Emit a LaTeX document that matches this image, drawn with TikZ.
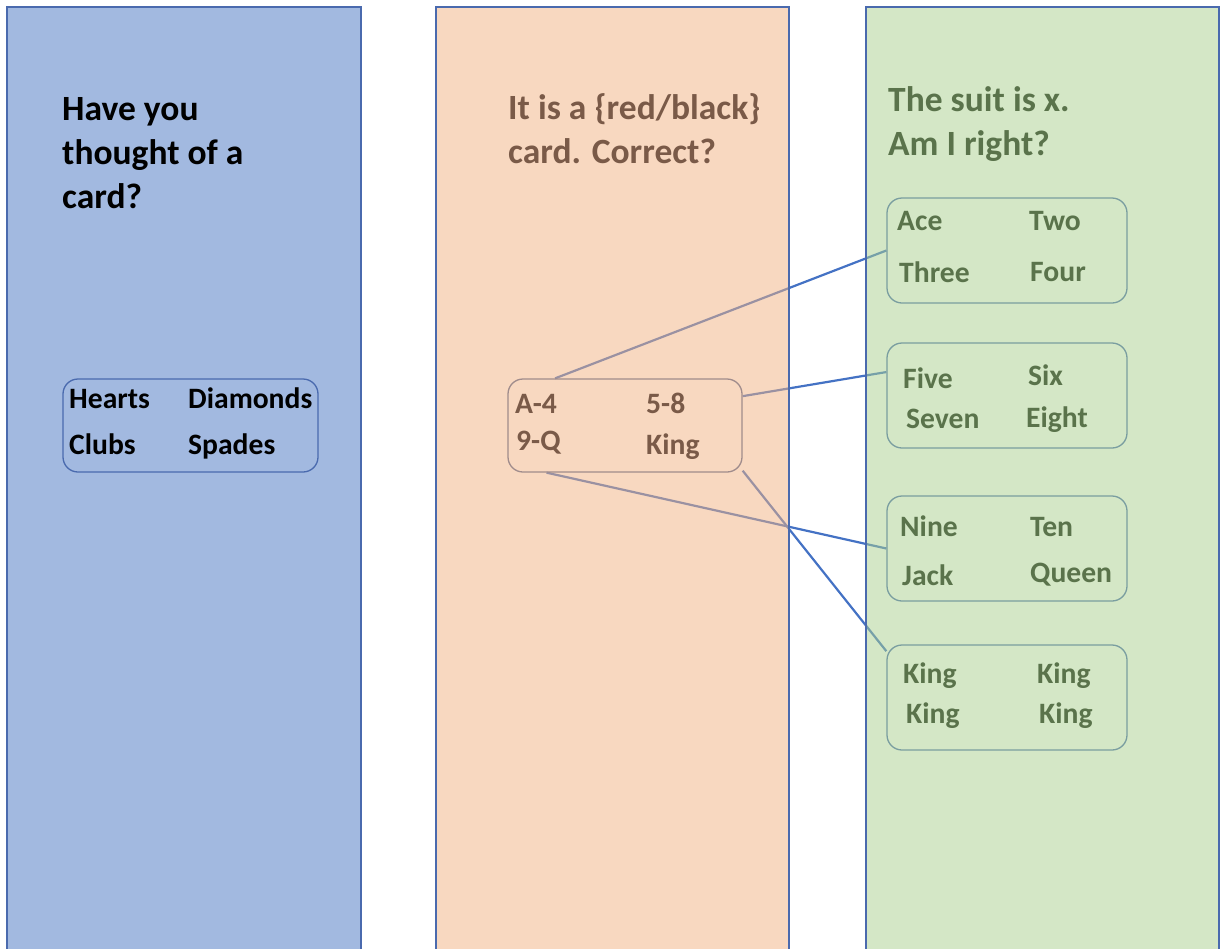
\documentclass[tikz,border=0pt]{standalone}
\usepackage{fontspec}
\setmainfont{Carlito}
\pgfdeclarelayer{lines}
\pgfdeclarelayer{panels}
\pgfsetlayers{lines,panels,main}
\definecolor{bluefill}{RGB}{162,185,224}
\definecolor{peachfill}{RGB}{241,177,129}
\definecolor{greenfill}{RGB}{169,207,141}
\definecolor{panelborder}{RGB}{74,106,174}
\definecolor{linkblue}{RGB}{68,114,196}
\definecolor{peachtext}{RGB}{122,90,72}
\definecolor{greentext}{RGB}{90,115,75}
\definecolor{peachbox}{RGB}{160,140,140}
\definecolor{greenbox}{RGB}{122,158,160}
\tikzset{
  paneledge/.style={draw=panelborder, line width=1.5pt},
  cardbox/.style={rectangle, rounded corners=15pt, line width=1.3pt, inner sep=0pt},
  title/.style={anchor=base west, inner sep=0pt, font=\fontsize{35.5}{42}\selectfont\bfseries},
  item/.style={anchor=base west, inner sep=0pt, font=\fontsize{29.6}{35}\selectfont\bfseries},
  link/.style={draw=linkblue, line width=2.2pt},
}
\begin{document}
\begin{tikzpicture}[x=1pt, y=-1pt]
\useasboundingbox (0,0) rectangle (1220,948);
% panels
\begin{pgfonlayer}{panels}
\fill[bluefill] (7,7) rectangle (361,960);
\draw[paneledge] (7,960) -- (7,7) -- (361,7) -- (361,960);
\fill[peachfill, fill opacity=0.5] (436,7) rectangle (789,960);
\draw[paneledge] (436,960) -- (436,7) -- (789,7) -- (789,960);
\fill[greenfill, fill opacity=0.5] (866,7) rectangle (1219,960);
\draw[paneledge] (866,960) -- (866,7) -- (1219,7) -- (1219,960);
\end{pgfonlayer}
% titles
\node[title] (t1) at (62,120) {Have you};
\node[title] (t2) at (62,164) {thought of a};
\node[title] (t3) at (62,208) {card?};
\node[title, text=peachtext] (t4) at (508,119) {It is a \{red/black\}};
\node[title, text=peachtext] (t5) at (508,163) {card. Correct?};
\node[title, text=greentext] (t6) at (888,111) {The suit is x.};
\node[title, text=greentext] (t7) at (888,155) {Am I right?};
% boxes
\node[cardbox, draw=panelborder, minimum width=255pt, minimum height=93pt] (bbox) at (190.5,425.5) {};
\node[cardbox, draw=peachbox, minimum width=234pt, minimum height=93pt] (pbox) at (625,425.5) {};
\node[cardbox, draw=greenbox, minimum width=240pt, minimum height=105pt] (g1) at (1007,250.5) {};
\node[cardbox, draw=greenbox, minimum width=240pt, minimum height=105pt] (g2) at (1007,395.5) {};
\node[cardbox, draw=greenbox, minimum width=240pt, minimum height=105pt] (g3) at (1007,548.5) {};
\node[cardbox, draw=greenbox, minimum width=240pt, minimum height=105pt] (g4) at (1007,697.5) {};
% box texts
\node[item] (b1) at (69,408) {Hearts};
\node[item] (b2) at (188,408) {Diamonds};
\node[item] (b3) at (69,454) {Clubs};
\node[item] (b4) at (188,454) {Spades};
\begin{scope}[every node/.append style={text=peachtext}]
\node[item] (p1) at (515,413) {A-4};
\node[item] (p2) at (646,413) {5-8};
\node[item] (p3) at (516,450) {9-Q};
\node[item] (p4) at (646,454) {King};
\end{scope}
\begin{scope}[every node/.append style={text=greentext}]
\node[item] (a1) at (897,230) {Ace};
\node[item] (a2) at (1029,230) {Two};
\node[item] (a3) at (899,282) {Three};
\node[item] (a4) at (1030,281) {Four};
\node[item] (c1) at (903,388) {Five};
\node[item] (c2) at (1028,385) {Six};
\node[item] (c3) at (906,428) {Seven};
\node[item] (c4) at (1026,427) {Eight};
\node[item] (d1) at (900,536) {Nine};
\node[item] (d2) at (1030,536) {Ten};
\node[item] (d3) at (902,585) {Jack};
\node[item] (d4) at (1030,582) {Queen};
\node[item] (k1) at (903,683) {King};
\node[item] (k2) at (1037,683) {King};
\node[item] (k3) at (906,723) {King};
\node[item] (k4) at (1039,723) {King};
\end{scope}
% connectors
\begin{pgfonlayer}{lines}
\draw[link] (pbox.146) -- (g1.west);
\draw[link] (pbox.14) -- (g2.169);
\draw[link] (pbox.211) -- (g3.west);
\draw[link] (pbox.-21) -- (g4.159);
\end{pgfonlayer}
\end{tikzpicture}
\end{document}
